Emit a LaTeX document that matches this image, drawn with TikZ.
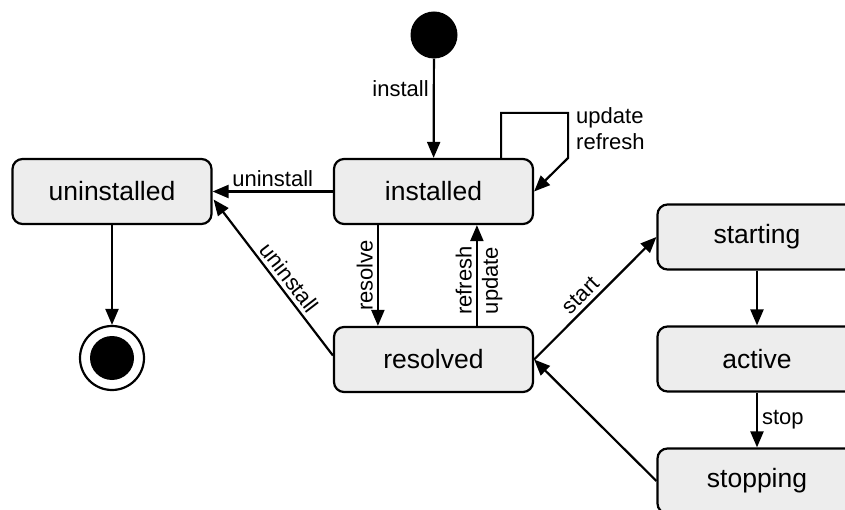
\documentclass[tikz,border=0pt]{standalone}
\usepackage{fontspec}
\setmainfont{Liberation Sans}
\usetikzlibrary{arrows.meta,calc}
\begin{document}
\begin{tikzpicture}[x=1pt,y=-1pt,
  state/.style={draw,line width=2.2pt,rounded corners=10pt,fill=black!7,
    minimum width=199pt,minimum height=65pt,inner sep=0pt,
    font=\fontsize{26.5}{31}\selectfont},
  arr/.style={line width=2.2pt,-{Triangle[length=16pt,width=13pt]}},
  lbl/.style={font=\fontsize{22}{26}\selectfont,inner sep=4pt}]
\useasboundingbox (0,0) rectangle (845,510);
\clip (0,0) rectangle (845,510);
% nodes
\node[circle,fill=black,minimum size=47pt,inner sep=0pt] (init) at (434,35) {};
\node[state] (installed) at (433.5,191.5) {installed};
\node[state] (uninstalled) at (112,191.5) {uninstalled};
\node[state] (resolved) at (433.5,359.5) {resolved};
\node[state] (starting) at (757,237) {starting};
\node[state] (active) at (757,359) {active};
\node[state] (stopping) at (757,481) {stopping};
\node[circle,draw,line width=2.2pt,fill=white,minimum size=64pt,inner sep=0pt] (final) at (112,358) {};
\node[circle,fill=black,minimum size=44pt,inner sep=0pt] (finalin) at (final) {};
% connectors
\draw[arr] (init) -- node[lbl,left,pos=0.3]{install} (installed);
\draw[arr] ($(installed.north east)+(-33,0)$) -- ++(0,-45) -- ++(67,0) -- ++(0,45) -- (installed.east);
\node[lbl,anchor=west,align=left,inner sep=0pt] (upd) at (576,129) {update\\refresh};
\draw[arr] (installed.west) -- node[lbl,above]{uninstall} (uninstalled.east);
\draw[arr] (uninstalled.south) -- (final.north);
\draw[arr] ($(installed.south west)+(45,0)$) -- node[lbl,rotate=90,anchor=south,pos=0.5]{resolve} ($(resolved.north west)+(45,0)$);
\draw[arr] ($(resolved.north west)+(144,0)$) -- node[lbl,rotate=90,anchor=south,pos=0.45]{refresh} node[lbl,rotate=90,anchor=north,pos=0.45]{update} ($(installed.south west)+(144,0)$);
\draw[arr] ($(resolved.west)+(0,-4)$) -- node[lbl,sloped,above,pos=0.45]{uninstall} ($(uninstalled.east)+(1,8)$);
\draw[arr] (resolved.east) -- node[lbl,sloped,above,pos=0.45]{start} (starting.west);
\draw[arr] (starting.south) -- (active.north);
\draw[arr] (active.south) -- node[lbl,right]{stop} (stopping.north);
\draw[arr] (stopping.west) -- (resolved.east);
\end{tikzpicture}
\end{document}
